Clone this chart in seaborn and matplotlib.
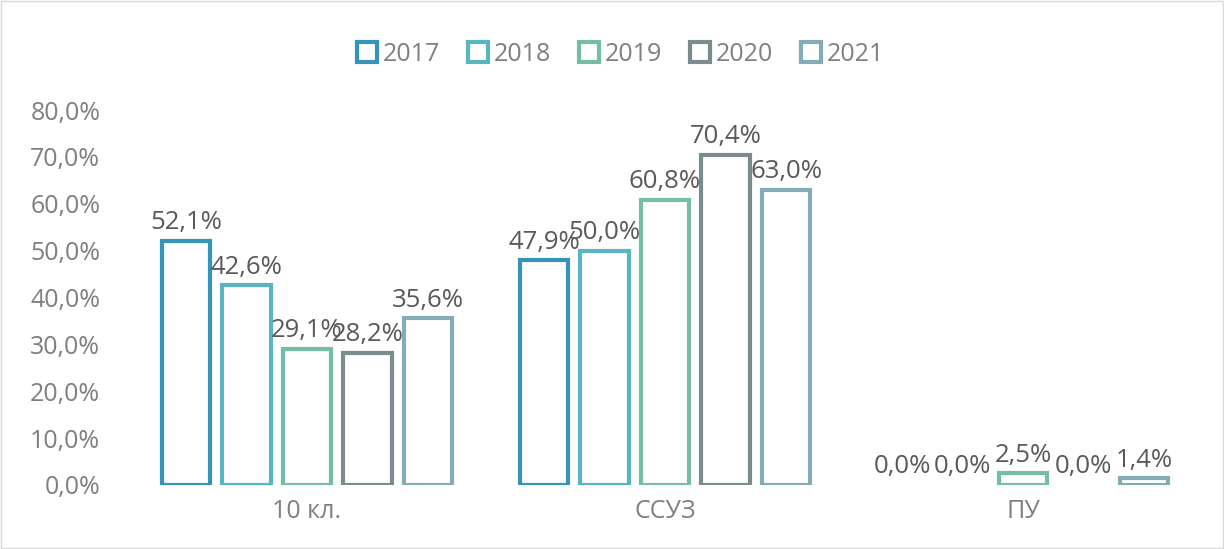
import matplotlib
matplotlib.use("Agg")
import matplotlib.pyplot as plt
import seaborn as sns
import pandas as pd

categories = ["10 кл.", "ССУЗ", "ПУ"]
years = ["2017", "2018", "2019", "2020", "2021"]
values = {
    "2017": [52.1, 47.9, 0.0],
    "2018": [42.6, 50.0, 0.0],
    "2019": [29.1, 60.8, 2.5],
    "2020": [28.2, 70.4, 0.0],
    "2021": [35.6, 63.0, 1.4],
}
colors = ["#3494BA", "#58B6C0", "#75BDA7", "#7A8C8E", "#84ACB6"]

rows = []
for y in years:
    for c, v in zip(categories, values[y]):
        rows.append({"cat": c, "year": y, "val": v})
df = pd.DataFrame(rows)

sns.set_style("white")
plt.rcParams["font.family"] = ["Open Sans", "DejaVu Sans"]

fig = plt.figure(figsize=(12.24, 5.49), dpi=100)
ax = fig.add_axes([0.1046, 0.1166, 0.8775, 0.683])

sns.barplot(data=df, x="cat", y="val", hue="year", hue_order=years,
            palette=colors, fill=False, linewidth=3, width=0.845, gap=0.2,
            ax=ax, errorbar=None)

# hide zero bars and add labels
for cont, y in zip(ax.containers, years):
    for p in cont.patches:
        if p.get_height() == 0:
            p.set_visible(False)
    labels = [f"{v:.1f}%".replace(".", ",") for v in values[y]]
    ax.bar_label(cont, labels=labels, padding=4, fontsize=18.5, color="#595959")

ax.set_ylim(0, 80)
ax.set_xlim(-0.5, 2.5)
ax.set_yticks(range(0, 81, 10))
ax.set_yticklabels([f"{t},0%" for t in range(0, 81, 10)])
ax.tick_params(axis="both", length=0, labelsize=18, labelcolor="#7f7f7f")
ax.tick_params(axis="y", pad=20)
ax.tick_params(axis="x", pad=10)
ax.set_xlabel("")
ax.set_ylabel("")
for s in ax.spines.values():
    s.set_visible(False)

handles, labels = ax.get_legend_handles_labels()
ax.get_legend().remove()
fig.legend(handles, labels, loc="upper center", bbox_to_anchor=(0.507, 0.965),
           ncol=5, frameon=False, fontsize=18, labelcolor="#7f7f7f",
           handlelength=0.8, handleheight=0.8, handletextpad=0.25, columnspacing=1.1)

fig.patches.append(plt.Rectangle((0.001, 0.001), 0.998, 0.998, transform=fig.transFigure,
                                 fill=False, edgecolor="#d9d9d9", linewidth=1))

fig.savefig("out.png", dpi=100)
